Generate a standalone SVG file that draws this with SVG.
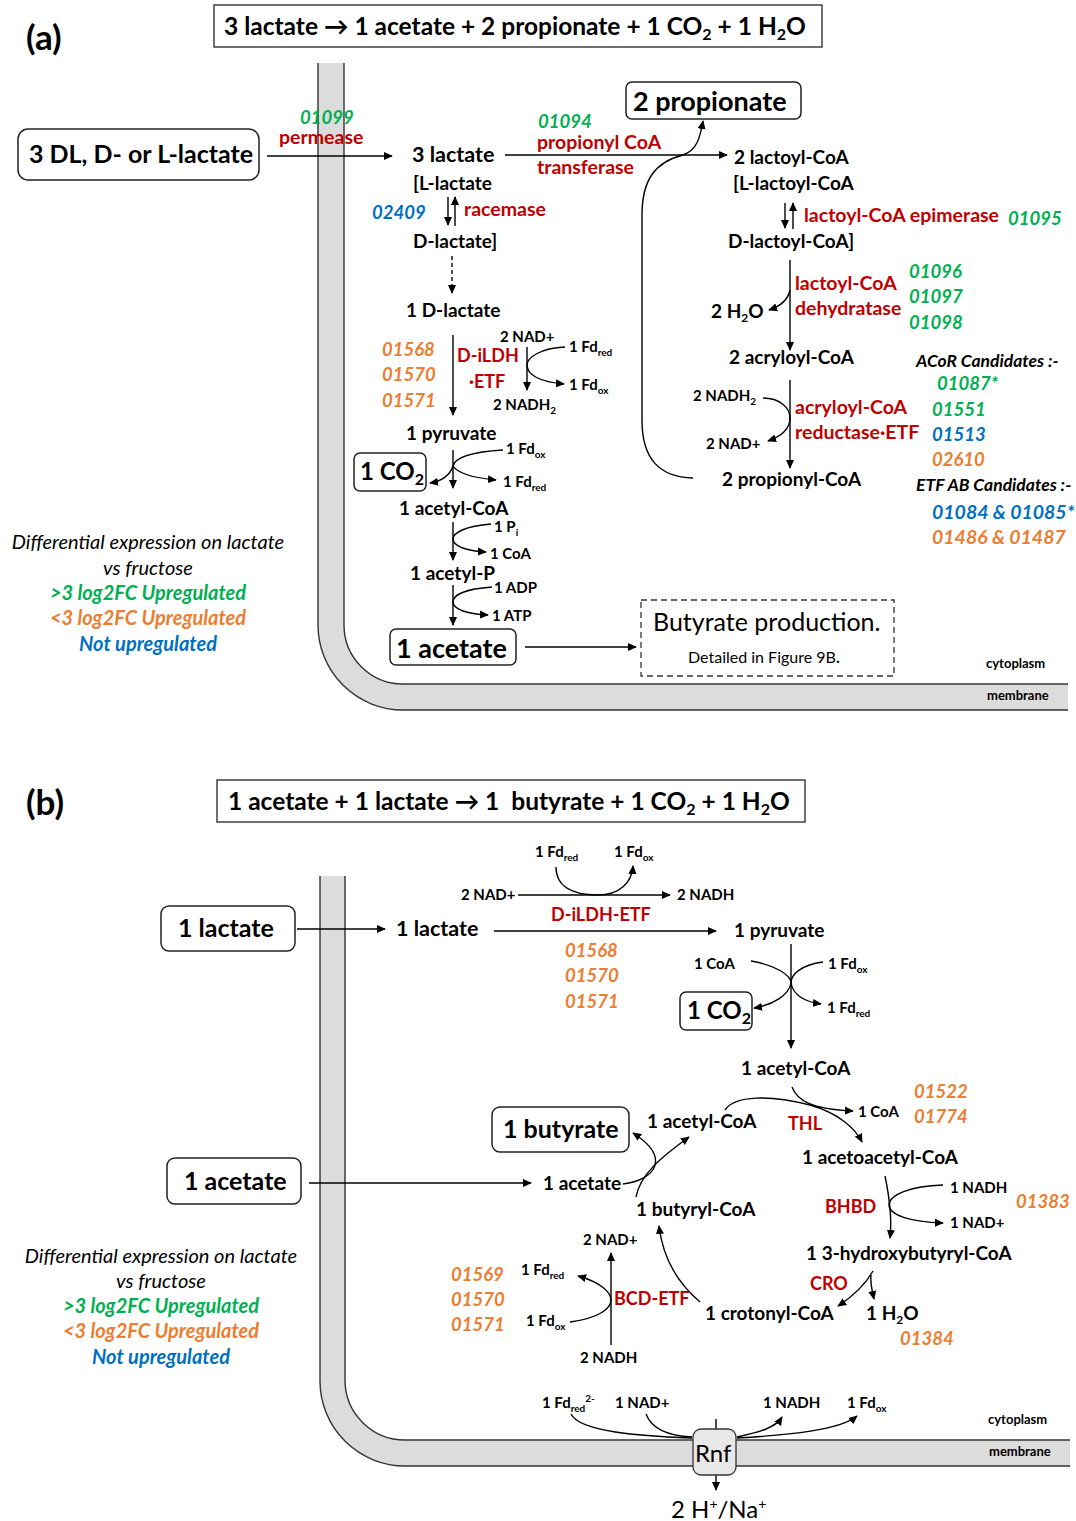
<svg xmlns="http://www.w3.org/2000/svg" width="1076" height="1521" viewBox="0 0 1076 1521">
<style>
text{font-family:Lato,"Open Sans","Liberation Sans",sans-serif;font-weight:bold;fill:#000}
.t18{font-size:18px}.t19{font-size:19px}.t17{font-size:18.5px}.t15{font-size:15px}.t13{font-size:13px}
.r19{font-size:19.5px}
.red{fill:#c00000}
.g{fill:#00b050;font-style:italic}.o{fill:#ed7d31;font-style:italic}.bl{fill:#0070c0;font-style:italic}
.leg{font-size:20px;font-style:italic;font-weight:normal}
.l20{font-size:20px}
.nw{font-weight:normal}
.hd{font-size:17.5px;font-style:italic}
.box{fill:#fff;stroke:#222;stroke-width:1.5}
.ln{fill:none;stroke:#000;stroke-width:1.4}
.mem{fill:#dcdcdc;stroke:none}
.ml{fill:none;stroke:#333;stroke-width:1.4}
</style>
<defs>
<marker id="ah" viewBox="0 0 10 10" refX="9" refY="5" markerWidth="9" markerHeight="9" orient="auto" markerUnits="userSpaceOnUse"><path d="M0,0.5 L10,5 L0,9.5 z" fill="#000"/></marker>
</defs>
<rect width="1076" height="1521" fill="#fff"/>

<!-- ===== Panel (a) ===== -->
<text x="26" y="50" font-size="35">(a)</text>
<g id="title-a">
<rect x="214" y="5" width="608" height="42" fill="#fff" stroke="#333" stroke-width="1.4"/>
<text x="224" y="35" font-size="24.5">3 lactate → 1 acetate + 2 propionate + 1 CO<tspan font-size="16" dy="5">2</tspan><tspan dy="-5"> + 1 H</tspan><tspan font-size="16" dy="5">2</tspan><tspan dy="-5">O</tspan></text>
</g>
<g id="membrane-a">
<path class="mem" d="M318,63 V625 A85,85 0 0 0 403,710 H1068 V684 H403 A59,59 0 0 1 344,625 V63 Z"/>
<path class="ml" d="M318,63 V625 A85,85 0 0 0 403,710 H1068"/>
<path class="ml" d="M344,63 V625 A59,59 0 0 0 403,684 H1068"/>
<text class="t13" x="986" y="668">cytoplasm</text>
<text class="t13" x="987" y="700">membrane</text>
</g>

<g id="connectors-a">
<path class="ln" d="M267,156 H392" marker-end="url(#ah)"/>
<path class="ln" d="M505,155 H727" marker-end="url(#ah)"/>
<path class="ln" d="M693,478 C660,477 642,460 642,420 V215 C642,180 655,162 683,155 C697,150 700,138 703,121" marker-end="url(#ah)"/>
<path class="ln" d="M448,197 V225" marker-end="url(#ah)"/>
<path class="ln" d="M455,226 V197" marker-end="url(#ah)"/>
<path class="ln" d="M452,256 V293" stroke-dasharray="4,3" marker-end="url(#ah)"/>
<path class="ln" d="M453,335 V415" marker-end="url(#ah)"/>
<path class="ln" d="M527,347 V390" marker-end="url(#ah)"/>
<path class="ln" d="M565,347 C540,348 527,358 527,365 C527,375 540,382 564,384" marker-end="url(#ah)"/>
<path class="ln" d="M453,450 V488" marker-end="url(#ah)"/>
<path class="ln" d="M503,450 C470,452 455,458 453,466 C458,474 475,478 496,480" marker-end="url(#ah)"/>
<path class="ln" d="M453,466 C450,475 442,481 430,483" marker-end="url(#ah)"/>
<path class="ln" d="M453,522 V560" marker-end="url(#ah)"/>
<path class="ln" d="M491,524 C465,526 453,533 453,539 C453,546 466,551 486,552" marker-end="url(#ah)"/>
<path class="ln" d="M453,585 V625" marker-end="url(#ah)"/>
<path class="ln" d="M492,587 C465,589 453,595 453,602 C453,609 466,614 488,615" marker-end="url(#ah)"/>
<path class="ln" d="M525,647 H636" marker-end="url(#ah)"/>
<path class="ln" d="M785,203 V228" marker-end="url(#ah)"/>
<path class="ln" d="M793,229 V203" marker-end="url(#ah)"/>
<path class="ln" d="M790,260 V350" marker-end="url(#ah)"/>
<path class="ln" d="M790,290 C788,300 781,306 769,310" marker-end="url(#ah)"/>
<path class="ln" d="M790,380 V468" marker-end="url(#ah)"/>
<path class="ln" d="M763,398 C780,398 790,408 790,418 C790,428 782,436 768,441" marker-end="url(#ah)"/>
</g>

<g id="lactate-in-a">
<rect class="box" x="18" y="129" width="241" height="51" rx="10"/>
<text x="29" y="163" font-size="25">3 DL, D- or L-lactate</text>
</g>
<g id="permease">
<text class="g t17" x="300" y="124">01099</text>
<text class="red r19" x="279" y="144">permease</text>
</g>
<g id="lactate3"><text x="412" y="162" font-size="21.5">3 lactate</text></g>
<g id="pct">
<text class="g t17" x="538" y="128">01094</text>
<text class="red r19" x="537" y="149">propionyl CoA</text>
<text class="red r19" x="537" y="174">transferase</text>
</g>
<g id="propionate"><rect class="box" x="626" y="82" width="175" height="37" rx="6"/><text x="633" y="111" font-size="27">2 propionate</text></g>
<g id="lactoylcoa">
<text class="t19" x="734" y="164">2 lactoyl-CoA</text>
<text class="t19" x="733" y="190">[L-lactoyl-CoA</text>
<text class="t19" x="728" y="248">D-lactoyl-CoA]</text>
</g>
<g id="epimerase">
<text class="red r19" x="804" y="222">lactoyl-CoA epimerase</text>
<text class="g t17" x="1008" y="225">01095</text>
</g>
<g id="dehydratase">
<text class="red r19" x="795" y="290">lactoyl-CoA</text>
<text class="red r19" x="795" y="315">dehydratase</text>
<text class="g t17" x="909" y="278">01096</text>
<text class="g t17" x="909" y="303">01097</text>
<text class="g t17" x="909" y="329">01098</text>
<text class="t19" x="711" y="318">2 H<tspan font-size="12" dy="4">2</tspan><tspan dy="-4">O</tspan></text>
</g>
<g id="acryloyl"><text class="t19" x="729" y="364">2 acryloyl-CoA</text></g>
<g id="acor">
<text class="t15" x="693" y="401">2 NADH<tspan font-size="10" dy="4">2</tspan></text>
<text class="t15" x="706" y="449">2 NAD+</text>
<text class="red r19" x="795" y="414">acryloyl-CoA</text>
<text class="red r19" x="795" y="439">reductase·ETF</text>
</g>
<g id="propionylcoa"><text class="t19" x="722" y="486">2 propionyl-CoA</text></g>
<g id="candidates">
<text class="hd" x="916" y="367">ACoR Candidates :-</text>
<text class="g t17" x="937" y="390">01087*</text>
<text class="g t17" x="932" y="416">01551</text>
<text class="bl t17" x="932" y="441">01513</text>
<text class="o t17" x="932" y="466">02610</text>
<text class="hd" x="916" y="491">ETF AB Candidates :-</text>
<text class="bl" x="932" y="519" font-size="19.5">01084 &amp; 01085*</text>
<text class="o" x="932" y="544" font-size="19.5">01486 &amp; 01487</text>
</g>
<g id="racemase">
<text class="t19" x="413" y="190">[L-lactate</text>
<text class="bl t17" x="372" y="219">02409</text>
<text class="red r19" x="464" y="216">racemase</text>
<text class="t19" x="413" y="248">D-lactate]</text>
</g>
<g id="dlactate"><text class="t19" x="406" y="317">1 D-lactate</text></g>
<g id="dildh-a">
<text class="o t17" x="382" y="356">01568</text>
<text class="o t17" x="382" y="381">01570</text>
<text class="o t17" x="382" y="407">01571</text>
<text class="red t18" x="457" y="362">D-iLDH</text>
<text class="red t18" x="469" y="388">·ETF</text>
<text class="t15" x="500" y="342">2 NAD+</text>
<text class="t15" x="569" y="352">1 Fd<tspan font-size="10" dy="4">red</tspan></text>
<text class="t15" x="569" y="390">1 Fd<tspan font-size="10" dy="4">ox</tspan></text>
<text class="t15" x="493" y="410">2 NADH<tspan font-size="10" dy="4">2</tspan></text>
</g>
<g id="pyruvate-a">
<text class="t19" x="406" y="440">1 pyruvate</text>
<text class="t15" x="506" y="454">1 Fd<tspan font-size="10" dy="4">ox</tspan></text>
<text class="t15" x="503" y="487">1 Fd<tspan font-size="10" dy="4">red</tspan></text>
</g>
<g id="co2-a"><rect class="box" x="354" y="453" width="72" height="38" rx="6"/><text x="360" y="480" font-size="24">1 CO<tspan font-size="16" dy="5">2</tspan></text></g>
<g id="acetylcoa-a">
<text class="t19" x="399" y="515">1 acetyl-CoA</text>
<text class="t15" x="494" y="532">1 P<tspan font-size="10" dy="4">i</tspan></text>
<text class="t15" x="490" y="559">1 CoA</text>
</g>
<g id="acetylp">
<text class="t19" x="410" y="580">1 acetyl-P</text>
<text class="t15" x="494" y="593">1 ADP</text>
<text class="t15" x="492" y="621">1 ATP</text>
</g>
<g id="acetate-a"><rect class="box" x="390" y="629" width="126" height="36" rx="6"/><text x="396" y="658" font-size="27">1 acetate</text></g>
<g id="butyrate-prod">
<rect x="641" y="600" width="253" height="76" fill="#fff" stroke="#333" stroke-width="1.3" stroke-dasharray="6,4"/>
<text class="nw" x="653" y="631" font-size="25">Butyrate production.</text>
<text class="nw" x="688" y="663" font-size="16">Detailed in Figure 9B<tspan style="font-weight:bold">.</tspan></text>
</g>
<g id="legend-a" text-anchor="middle">
<text class="leg" x="148" y="549">Differential expression on lactate</text>
<text class="leg" x="148" y="575">vs fructose</text>
<text class="g l20" x="148" y="600">&gt;3 log2FC Upregulated</text>
<text class="o l20" x="148" y="625">&lt;3 log2FC Upregulated</text>
<text class="bl l20" x="148" y="651">Not upregulated</text>
</g>

<!-- ===== Panel (b) ===== -->
<text x="26" y="815" font-size="35">(b)</text>
<g id="title-b">
<rect x="217" y="780" width="588" height="42" fill="#fff" stroke="#333" stroke-width="1.4"/>
<text x="228" y="810" font-size="24.5" xml:space="preserve">1 acetate + 1 lactate → 1  butyrate + 1 CO<tspan font-size="16" dy="5">2</tspan><tspan dy="-5"> + 1 H</tspan><tspan font-size="16" dy="5">2</tspan><tspan dy="-5">O</tspan></text>
</g>
<g id="membrane-b">
<path class="mem" d="M320,876 V1381 A85,85 0 0 0 405,1466 H1070 V1440 H405 A60,60 0 0 1 345,1380 V876 Z"/>
<path class="ml" d="M320,876 V1381 A85,85 0 0 0 405,1466 H1070"/>
<path class="ml" d="M345,876 V1380 A60,60 0 0 0 405,1440 H1070"/>
<text class="t13" x="988" y="1424">cytoplasm</text>
<text class="t13" x="989" y="1456">membrane</text>
</g>

<g id="connectors-b">
<path class="ln" d="M297,929 H385" marker-end="url(#ah)"/>
<path class="ln" d="M494,931 H716" marker-end="url(#ah)"/>
<path class="ln" d="M518,895 H670" marker-end="url(#ah)"/>
<path class="ln" d="M556,867 C556,888 575,895 598,895 C620,895 632,882 633,866" marker-end="url(#ah)"/>
<path class="ln" d="M791,944 V1048" marker-end="url(#ah)"/>
<path class="ln" d="M751,961 C775,965 791,975 791,983 C789,995 773,1005 754,1008" marker-end="url(#ah)"/>
<path class="ln" d="M823,962 C800,965 791,975 791,983 C793,995 805,1002 821,1004" marker-end="url(#ah)"/>
<path class="ln" d="M792,1087 C797,1100 810,1109 853,1111" marker-end="url(#ah)"/>
<path class="ln" d="M725,1110 C735,1095 770,1095 810,1105 C838,1113 855,1128 862,1142" marker-end="url(#ah)"/>
<path class="ln" d="M309,1183 H531" marker-end="url(#ah)"/>
<path class="ln" d="M623,1184 C655,1180 672,1158 633,1133" marker-end="url(#ah)"/>
<path class="ln" d="M636,1197 C640,1175 660,1158 689,1137" marker-end="url(#ah)"/>
<path class="ln" d="M885,1176 C890,1200 892,1220 890,1238" marker-end="url(#ah)"/>
<path class="ln" d="M943,1185 C910,1186 889,1195 889,1205 C889,1215 910,1222 943,1223" marker-end="url(#ah)"/>
<path class="ln" d="M873,1271 C865,1285 852,1297 838,1306" marker-end="url(#ah)"/>
<path class="ln" d="M871,1275 C870,1283 872,1290 874,1299" marker-end="url(#ah)"/>
<path class="ln" d="M700,1302 C680,1285 663,1260 659,1226" marker-end="url(#ah)"/>
<path class="ln" d="M611,1345 V1253" marker-end="url(#ah)"/>
<path class="ln" d="M570,1322 C600,1318 611,1308 611,1300 C611,1292 600,1282 578,1276" marker-end="url(#ah)"/>
<path class="ln" d="M571,1414 C580,1432 640,1436 692,1438"/>
<path class="ln" d="M646,1414 C652,1430 672,1436 692,1437"/>
<path class="ln" d="M737,1437 C760,1432 775,1428 782,1417" marker-end="url(#ah)"/>
<path class="ln" d="M737,1438 C790,1435 840,1430 857,1416" marker-end="url(#ah)"/>
<path class="ln" d="M716,1419 V1429"/>
<path class="ln" d="M716,1475 V1490" marker-end="url(#ah)"/>
</g>

<g id="lactate-in-b"><rect class="box" x="161" y="906" width="134" height="45" rx="8"/><text x="178" y="937" font-size="25">1 lactate</text></g>
<g id="lactate-b"><text x="396" y="936" font-size="21.5">1 lactate</text></g>
<g id="dildh-b">
<text class="t15" x="461" y="900">2 NAD+</text>
<text class="t15" x="677" y="900">2 NADH</text>
<text class="t15" x="535" y="857">1 Fd<tspan font-size="10" dy="4">red</tspan></text>
<text class="t15" x="614" y="857">1 Fd<tspan font-size="10" dy="4">ox</tspan></text>
<text class="red t18" x="551" y="921">D-iLDH-ETF</text>
<text class="o t17" x="565" y="957">01568</text>
<text class="o t17" x="565" y="982">01570</text>
<text class="o t17" x="565" y="1008">01571</text>
</g>
<g id="pyruvate-b">
<text class="t19" x="734" y="937">1 pyruvate</text>
<text class="t15" x="694" y="969">1 CoA</text>
<text class="t15" x="828" y="969">1 Fd<tspan font-size="10" dy="4">ox</tspan></text>
<text class="t15" x="827" y="1013">1 Fd<tspan font-size="10" dy="4">red</tspan></text>
</g>
<g id="co2-b"><rect class="box" x="680" y="992" width="72" height="38" rx="6"/><text x="687" y="1019" font-size="24">1 CO<tspan font-size="16" dy="5">2</tspan></text></g>
<g id="acetylcoa-b"><text class="t19" x="741" y="1075">1 acetyl-CoA</text></g>
<g id="thl">
<text class="t15" x="858" y="1117">1 CoA</text>
<text class="red t18" x="788" y="1130">THL</text>
<text class="o t17" x="914" y="1098">01522</text>
<text class="o t17" x="914" y="1123">01774</text>
</g>
<g id="acetylcoa-b2"><text class="t19" x="647" y="1128">1 acetyl-CoA</text></g>
<g id="butyrate"><rect class="box" x="492" y="1107" width="137" height="45" rx="8"/><text x="503" y="1138" font-size="25">1 butyrate</text></g>
<g id="acetate-in-b"><rect class="box" x="167" y="1158" width="134" height="46" rx="8"/><text x="184" y="1190" font-size="25">1 acetate</text></g>
<g id="acetate-b"><text class="t19" x="543" y="1190">1 acetate</text></g>
<g id="acetoacetyl"><text class="t19" x="802" y="1164">1 acetoacetyl-CoA</text></g>
<g id="butyrylcoa"><text class="t19" x="636" y="1216">1 butyryl-CoA</text></g>
<g id="bhbd">
<text class="red t18" x="825" y="1213">BHBD</text>
<text class="t15" x="950" y="1193">1 NADH</text>
<text class="t15" x="950" y="1228">1 NAD+</text>
<text class="o t17" x="1016" y="1208">01383</text>
</g>
<g id="hydroxybutyryl"><text class="t19" x="806" y="1260">1 3-hydroxybutyryl-CoA</text></g>
<g id="cro">
<text class="red t18" x="810" y="1290">CRO</text>
<text class="t19" x="866" y="1320">1 H<tspan font-size="12" dy="4">2</tspan><tspan dy="-4">O</tspan></text>
<text class="o t17" x="900" y="1345">01384</text>
</g>
<g id="crotonyl"><text class="t19" x="705" y="1320">1 crotonyl-CoA</text></g>
<g id="bcd">
<text class="t15" x="583" y="1245">2 NAD+</text>
<text class="t15" x="580" y="1363">2 NADH</text>
<text class="t15" x="521" y="1275">1 Fd<tspan font-size="10" dy="4">red</tspan></text>
<text class="t15" x="526" y="1326">1 Fd<tspan font-size="10" dy="4">ox</tspan></text>
<text class="red t18" x="614" y="1305">BCD-ETF</text>
<text class="o t17" x="451" y="1281">01569</text>
<text class="o t17" x="451" y="1306">01570</text>
<text class="o t17" x="451" y="1331">01571</text>
</g>
<g id="rnf">
<rect x="693" y="1429" width="43" height="46" rx="8" fill="#e8e8e8" stroke="#333" stroke-width="1.3"/>
<text class="nw" x="695" y="1462" font-size="24">Rnf</text>
<text class="t15" x="542" y="1408">1 Fd<tspan font-size="10" dy="4">red</tspan><tspan font-size="10" dy="-10">2-</tspan></text>
<text class="t15" x="615" y="1408">1 NAD+</text>
<text class="t15" x="763" y="1408">1 NADH</text>
<text class="t15" x="847" y="1408">1 Fd<tspan font-size="10" dy="4">ox</tspan></text>
<text class="nw" x="671" y="1518" font-size="24">2 H<tspan font-size="14" dy="-9">+</tspan><tspan dy="9">/Na</tspan><tspan font-size="14" dy="-9">+</tspan></text>
</g>
<g id="legend-b" text-anchor="middle">
<text class="leg" x="161" y="1263">Differential expression on lactate</text>
<text class="leg" x="161" y="1288">vs fructose</text>
<text class="g l20" x="161" y="1313">&gt;3 log2FC Upregulated</text>
<text class="o l20" x="161" y="1338">&lt;3 log2FC Upregulated</text>
<text class="bl l20" x="161" y="1364">Not upregulated</text>
</g>
</svg>
